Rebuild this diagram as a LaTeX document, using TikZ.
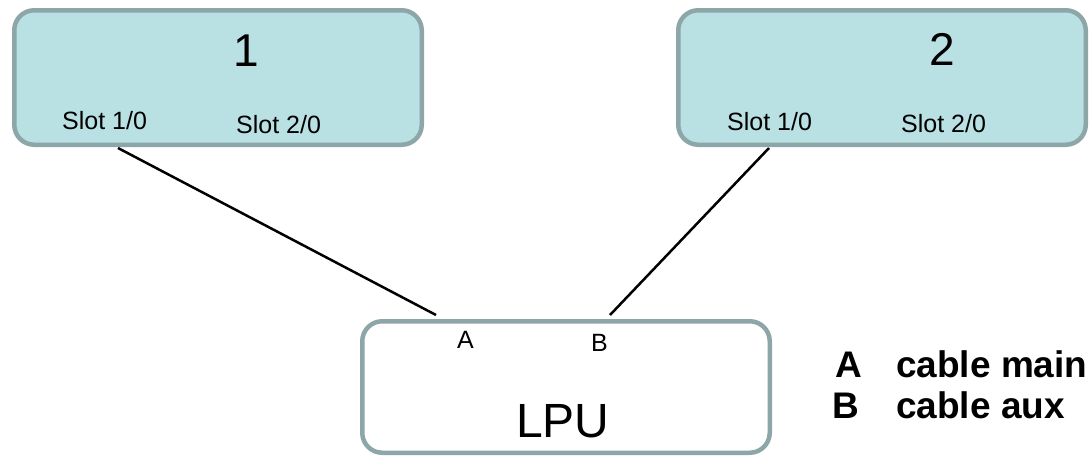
\documentclass[tikz,border=0pt]{standalone}
\usepackage{fontspec}
\setmainfont{Liberation Sans}
\definecolor{boxfill}{HTML}{B9E0E3}
\definecolor{boxline}{HTML}{8DA7A9}
\begin{document}
\begin{tikzpicture}[x=1pt,y=-1pt,
  unitbox/.style={draw=boxline,line width=4.5pt,rounded corners=20pt,fill=boxfill,
    minimum width=407.5pt,minimum height=134.5pt,inner sep=0pt},
  lpubox/.style={unitbox,fill=white,minimum height=131.5pt},
  lbl/.style={inner sep=0pt,font=\fontsize{25}{30}\selectfont},
  big/.style={inner sep=0pt,font=\fontsize{46}{52}\selectfont},
  leg/.style={inner sep=0pt,anchor=base west,font=\bfseries\fontsize{37}{42}\selectfont},
  cable/.style={line width=2.5pt,black}]
\useasboundingbox (0,0) rectangle (1089,458);
\node[unitbox] (box1) at (218,77.5) {};
\node[unitbox] (box2) at (882,77.5) {};
\node[lpubox] (lpu) at (566,387) {};
\node[big,anchor=base] (n1) at (246,66) {1};
\node[big,anchor=base] (n2) at (942.5,65) {2};
\node[lbl,anchor=base west] (s11) at (62,129) {Slot 1/0};
\node[lbl,anchor=base west] (s12) at (236,133) {Slot 2/0};
\node[lbl,anchor=base west] (s21) at (727,130) {Slot 1/0};
\node[lbl,anchor=base west] (s22) at (901,132) {Slot 2/0};
\node[lbl,anchor=base west] (pa) at (457,348) {A};
\node[lbl,anchor=base west] (pb) at (591,351) {B};
\node[inner sep=0pt,anchor=base west,font=\fontsize{48}{54}\selectfont] (lputxt) at (516,437) {LPU};
\node[leg] (la) at (835,377) {A};
\node[leg] (lam) at (896,377) {cable main};
\node[leg] (lb) at (832,418) {B};
\node[leg] (lba) at (896,418) {cable aux};
\coordinate (c1) at (118,148);
\coordinate (c2) at (769,148);
\coordinate (ea) at (436,315);
\coordinate (eb) at (610,315);
\draw[cable] (c1) -- (ea);
\draw[cable] (c2) -- (eb);
\end{tikzpicture}
\end{document}
